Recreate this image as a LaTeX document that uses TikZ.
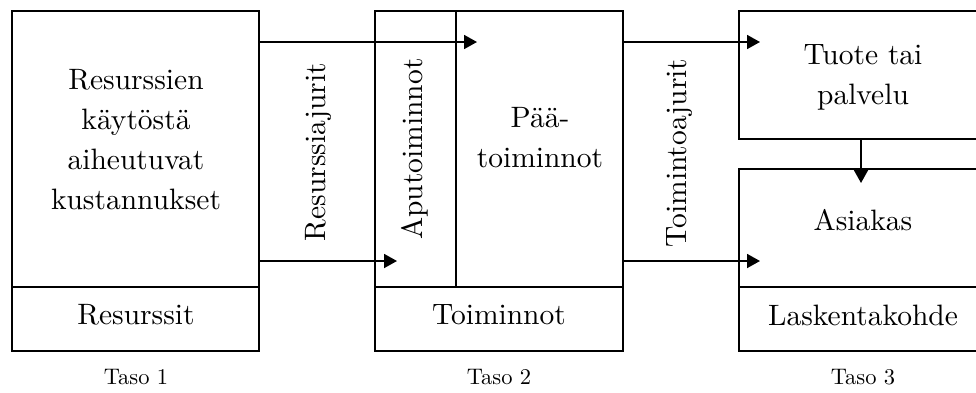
\documentclass[tikz,border=0pt]{standalone}
\usepackage{fontspec}
\setmainfont{lmroman10-regular}[Extension=.otf]
\usetikzlibrary{arrows.meta}
\begin{document}
\begin{tikzpicture}[x=1pt,y=-1pt,
  boxline/.style={draw=black,line width=1.6pt},
  flow/.style={draw=black,line width=1.8pt,-{Triangle[length=13pt,width=14pt]}},
  lbl/.style={font=\fontsize{29.5}{40}\selectfont,align=center,inner sep=0pt},
  vlbl/.style={font=\fontsize{29.5}{40}\selectfont,rotate=90,inner sep=0pt},
  taso/.style={font=\fontsize{22.5}{24}\selectfont,inner sep=0pt}]
\useasboundingbox (0,0) rectangle (976,392);
\clip (0,0) rectangle (976,392);
% Level 1
\draw[boxline] (12,11) rectangle (259,351);
\draw[boxline] (12,287) -- (259,287);
% Level 2
\draw[boxline] (375,11) rectangle (623,351);
\draw[boxline] (375,287) -- (623,287);
\draw[boxline] (456,11) -- (456,287);
% Level 3
\draw[boxline] (739,11) rectangle (985,139);
\draw[boxline] (739,169) rectangle (985,351);
\draw[boxline] (739,287) -- (985,287);
% Texts
\node[lbl] (res) at (136,140) {Resurssien\\käytöstä\\aiheutuvat\\kustannukset};
\node[lbl] (resurssit) at (136,315) {Resurssit};
\node[taso] (t1) at (136,377) {Taso 1};
\node[vlbl] (rajurit) at (318,152) {Resurssiajurit};
\node[vlbl] (apu) at (415,149) {Aputoiminnot};
\node[lbl] (paa) at (540,138) {Pää-\\toiminnot};
\node[vlbl] (tajurit) at (680,153) {Toimintoajurit};
\node[lbl] (toiminnot) at (499,315) {Toiminnot};
\node[taso] (t2) at (499,377) {Taso 2};
\node[lbl] (tuote) at (863,77) {Tuote tai\\palvelu};
\node[lbl] (asiakas) at (863,220) {Asiakas};
\node[lbl] (lask) at (863,315) {Laskentakohde};
\node[taso] (t3) at (863,377) {Taso 3};
% Connector anchors
\coordinate (a1s) at (259,42);
\coordinate (a1e) at (477,42);
\coordinate (a2s) at (259,261);
\coordinate (a2e) at (397,261);
\coordinate (a3s) at (623,42);
\coordinate (a3e) at (760,42);
\coordinate (a4s) at (623,261);
\coordinate (a4e) at (760,261);
\coordinate (a5s) at (861,139);
\coordinate (a5e) at (861,183);
\draw[flow] (a1s) -- (a1e);
\draw[flow] (a2s) -- (a2e);
\draw[flow] (a3s) -- (a3e);
\draw[flow] (a4s) -- (a4e);
\draw[flow] (a5s) -- (a5e);
\end{tikzpicture}
\end{document}
